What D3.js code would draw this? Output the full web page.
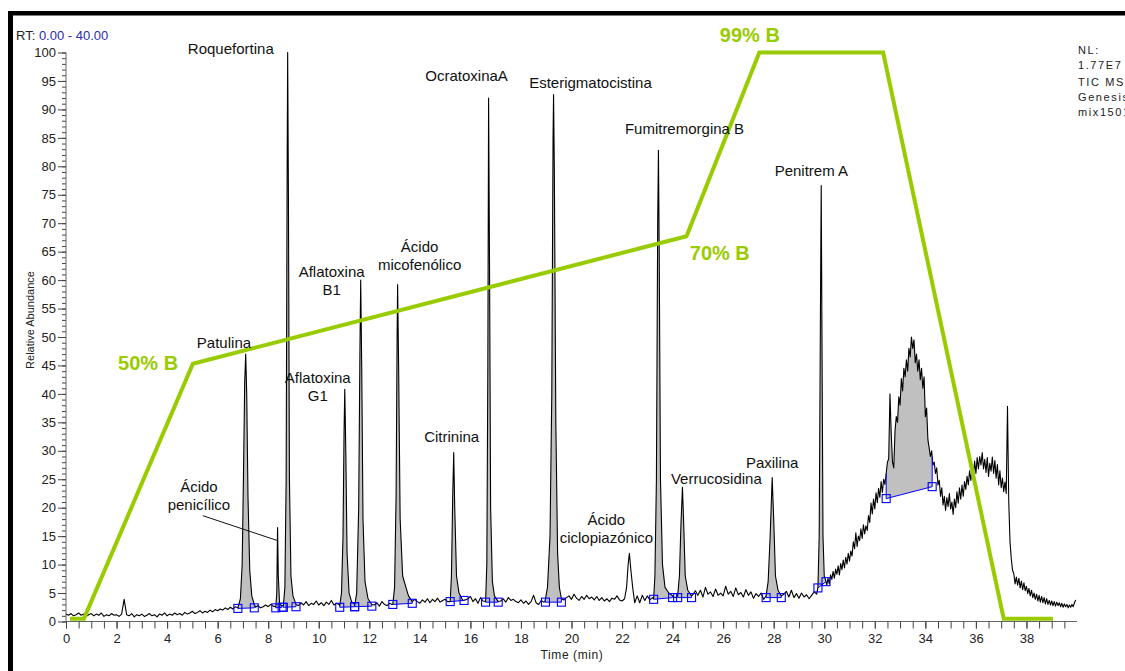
<!DOCTYPE html>
<html><head><meta charset="utf-8">
<script src="https://cdn.jsdelivr.net/npm/d3@7"></script>
<style>
body{margin:0;background:#fff;overflow:hidden}
svg{display:block;font-family:"Liberation Sans",Arial,Helvetica,sans-serif}
</style>
</head><body>
<svg id="chart" width="1125" height="671"></svg>
<script>
// ---------- DATA ----------
// TIC trace between peaks, one value every 0.1 min from 0.0 to 29.9 min (relative abundance %)
const baselineStep = 0.1;
const baselineValues = [
 1.3,1.1,1.4,1.0,1.2,1.5,1.1,1.3,0.9,1.2,
 1.4,1.0,1.3,1.1,1.5,0.9,1.2,1.0,1.4,1.1,
 1.2,0.9,1.3,3.9,1.2,1.0,1.4,0.8,1.2,1.0,
 1.3,0.9,1.1,1.4,1.0,1.2,0.8,1.3,1.1,1.5,
 1.0,1.3,1.1,1.5,1.2,1.4,1.1,1.6,1.3,1.5,
 1.8,1.4,1.6,1.9,1.5,1.8,1.6,2.0,1.7,2.1,
 1.9,2.2,2.0,2.4,2.1,2.5,2.2,2.6,2.3,2.4,
 2.5,2.4,2.6,2.3,2.7,2.5,2.8,2.4,2.6,2.9,
 2.6,3.0,2.7,3.2,4.5,2.8,3.0,2.9,3.3,2.7,
 3.1,4.2,2.8,3.3,2.9,3.5,2.8,3.2,3.0,3.6,
 2.9,3.3,2.8,3.4,3.0,3.7,2.9,3.2,3.0,3.1,
 3.0,3.2,2.9,3.4,3.1,3.3,2.8,3.5,3.0,3.2,
 2.8,4.2,2.9,3.3,2.7,3.5,3.0,2.8,3.2,3.0,
 3.4,3.0,3.6,3.2,3.8,3.4,4.5,3.3,3.9,3.5,
 3.2,3.8,3.4,4.0,3.3,3.9,3.5,4.1,3.4,3.7,
 3.9,3.5,4.2,3.6,4.0,3.7,4.1,4.6,3.8,4.0,
 4.4,3.5,4.0,3.2,4.2,3.6,3.9,4.4,3.5,4.1,
 3.8,4.5,3.6,4.0,3.4,4.2,3.7,3.9,3.5,3.3,
 3.8,3.2,3.6,3.0,3.5,4.6,3.3,3.0,3.7,3.4,
 3.8,3.5,4.0,3.6,4.3,3.9,4.6,3.8,4.2,4.5,
 3.9,4.8,4.1,3.7,4.4,3.9,4.6,4.0,4.3,3.8,
 4.4,3.7,4.2,3.6,4.0,3.5,4.1,3.9,4.5,3.8,
 3.6,4.0,4.3,4.6,4.2,4.4,3.9,3.3,4.6,3.7,
 4.5,3.8,4.2,4.0,4.4,4.1,4.7,4.3,4.9,4.4,
 4.6,4.2,4.8,4.4,4.5,4.3,4.9,4.5,4.7,5.4,
 4.6,5.5,4.3,6.0,4.8,5.2,4.4,5.7,4.6,5.0,
 4.5,6.2,4.8,5.3,4.4,5.9,4.7,5.1,4.3,5.6,
 4.6,5.2,4.1,4.9,4.4,5.0,3.9,4.5,4.6,4.4,
 4.5,4.4,4.6,4.3,4.8,5.3,4.3,5.5,4.2,4.9,
 4.1,5.0,4.3,4.7,4.0,4.6,5.2,4.8,5.6,6.0
];
// Late-eluting hump, one value every 0.05 min from 30.00 to 39.95 min
const humpStart = 30.0;
const humpStep = 0.05;
const humpValues = [
 7.5,7.0,6.4,7.6,6.6,8.2,7.4,8.8,7.6,9.2,
 8.3,9.8,8.2,10.2,9.1,10.8,9.4,11.3,10.1,12.0,
 10.6,12.4,11.5,14.0,12.8,15.6,13.2,15.0,14.2,16.3,
 14.6,17.0,15.4,16.8,16.0,18.6,17.4,20.8,18.9,21.5,
 19.8,22.6,20.9,23.4,21.8,24.6,22.7,25.0,24.1,26.0,
 28.0,28.6,40.0,33.0,28.0,27.0,33.5,36.0,35.0,39.5,
 38.0,42.7,40.5,44.5,43.0,46.0,44.0,48.0,46.5,50.0,
 48.0,49.5,45.5,47.0,44.0,46.0,42.5,44.5,41.0,43.0,
 36.0,37.5,32.0,30.5,29.0,30.0,27.5,28.0,26.0,27.0,
 24.0,24.8,22.0,23.5,20.5,22.0,19.5,21.8,20.2,22.5,
 19.8,21.0,18.8,21.5,20.0,22.8,20.8,23.5,21.5,24.0,
 22.0,24.6,23.2,25.5,24.0,26.5,24.8,27.0,25.6,28.2,
 26.0,28.8,26.8,29.0,27.5,29.7,26.8,28.5,26.2,28.8,
 25.5,27.8,26.4,28.9,26.0,28.3,25.2,27.6,24.0,26.5,
 23.5,25.2,22.8,24.5,22.5,37.8,21.0,14.0,11.0,9.0,
 8.4,6.6,7.8,6.4,7.6,5.9,7.1,5.6,6.8,5.4,
 6.2,4.9,5.8,4.5,5.5,4.2,5.0,3.9,4.8,3.6,
 4.6,3.4,4.4,3.3,4.2,3.1,4.0,3.0,3.7,2.9,
 3.6,2.8,3.5,2.7,3.4,2.8,3.3,2.6,3.2,2.5,
 3.1,2.6,3.0,2.4,2.9,2.5,3.0,2.6,3.3,3.8
];

// Peak profiles: [time (min), relative abundance (%)]
const peakPatulina = [[6.8,2.4],[6.9,4],[6.97,10],[7.02,25],[7.07,42],[7.11,47],[7.15,40],[7.2,22],[7.27,9],[7.35,4.5],[7.45,3]];
const peakPenicilico = [[8.3,2.6],[8.34,5],[8.37,16.5],[8.4,8],[8.45,3.2],[8.52,2.8]];
const peakRoquefortina = [[8.6,2.8],[8.66,6],[8.71,25],[8.75,80],[8.77,100],[8.8,75],[8.84,25],[8.9,8],[8.98,4.5],[9.1,3]];
const peakAflaG1 = [[10.83,2.8],[10.9,5],[10.96,15],[11.0,33],[11.03,40.8],[11.07,30],[11.12,12],[11.2,5],[11.3,3.5],[11.42,3]];
const peakAflaB1 = [[11.43,3],[11.5,5],[11.58,20],[11.63,48],[11.66,60],[11.7,45],[11.75,18],[11.83,7],[11.95,4],[12.1,3]];
const peakMicofenolico = [[12.93,3],[13.0,6],[13.06,22],[13.1,50],[13.12,59.2],[13.16,45],[13.22,18],[13.32,8],[13.45,6],[13.55,4.5],[13.7,3.5]];
const peakCitrinina = [[15.2,3.5],[15.25,8],[15.3,22],[15.34,29.7],[15.38,20],[15.45,8],[15.55,5],[15.7,3.7]];
const peakOcratoxina = [[16.6,3.5],[16.65,10],[16.69,45],[16.72,92],[16.76,60],[16.8,20],[16.87,7],[16.95,4.5],[17.1,3.5]];
const peakEsterig = [[18.95,3.5],[19.05,6],[19.15,15],[19.22,40],[19.27,85],[19.29,92.6],[19.32,80],[19.38,35],[19.45,12],[19.52,6],[19.6,4]];
const peakCiclopiazonico = [[22.1,4],[22.18,6],[22.24,10],[22.29,12],[22.35,9],[22.42,6],[22.5,3.3],[22.6,4.5]];
const peakFumitremorgina = [[23.25,4],[23.3,8],[23.36,25],[23.41,70],[23.44,82.8],[23.47,65],[23.52,25],[23.6,10],[23.7,6],[23.85,5],[24.0,4.5]];
const peakVerrucosidina = [[24.2,4.5],[24.27,8],[24.33,17],[24.39,23.6],[24.44,17],[24.5,8],[24.6,5.5],[24.75,4.5]];
const peakPaxilina = [[27.7,4.5],[27.78,7],[27.86,15],[27.94,25.3],[28.0,18],[28.07,8],[28.17,5.5],[28.3,4.5]];
const peakPenitrem = [[29.75,6],[29.8,15],[29.85,55],[29.88,76.6],[29.91,50],[29.95,15],[30.0,8],[30.07,7]];

// Integrated peaks: [start time, start level, end time, end level]
const integrations = [
 [6.8,2.3,7.45,2.4],[8.3,2.4,8.55,2.5],[8.6,2.5,9.1,2.6],[10.83,2.5,11.42,2.6],[11.42,2.6,12.1,2.7],
 [12.93,3.0,13.7,3.2],[15.2,3.5,15.75,3.7],[16.6,3.4,17.1,3.4],[18.97,3.4,19.6,3.4],
 [23.25,3.9,24.0,4.2],[24.2,4.2,24.75,4.2],[27.7,4.2,28.3,4.2],[29.75,5.9,30.07,7.0],[32.45,21.6,34.27,23.7]
];

// Compound labels and their anchor (time, abundance) at label centre
const compoundNames = [["Roquefortina"],["Patulina"],["Ácido","penicílico"],["Aflatoxina","G1"],["Aflatoxina","B1"],
 ["Ácido","micofenólico"],["Citrinina"],["OcratoxinaA"],["Esterigmatocistina"],["Fumitremorgina B"],
 ["Ácido","ciclopiazónico"],["Verrucosidina"],["Paxilina"],["Penitrem A"]];
const compoundAnchors = [[6.52,100.7],[6.25,49.0],[5.26,23.7],[9.96,42.9],[10.51,61.5],[13.99,65.9],[15.26,32.5],
 [15.85,96.0],[20.75,94.7],[24.47,86.6],[21.38,17.9],[25.73,25.1],[27.94,27.9],[29.49,79.3]];
const penicilicoLeader = [[5.41,18.6],[8.38,14.2]];

// Mobile-phase gradient (% B) drawn over the trace
const gradientTime = [0.16,0.71,5.02,24.55,27.43,32.33,37.1,39.05];
const gradientLevel = [0.5,0.5,45.3,67.7,100,100,0.5,0.5];
const gradientLabels = ["50% B","70% B","99% B"];
const gradientLabelAnchors = [[2.06,45.5],[24.68,64.7],[25.87,103]];

const yTickValues = d3.range(0,101,5);
const xTickLabels = d3.range(0,39,2);
const headerLines = ["NL:","1.77E7","TIC  MS","Genesis","mix1501"];

// ---------- DRAW ----------
const svg = d3.select("#chart");
const x = d3.scaleLinear().domain([0,40]).range([66,1077]);
const y = d3.scaleLinear().domain([0,100]).range([621.5,52.5]);

// frame
svg.append("rect").attr("x",8).attr("y",11).attr("width",1125).attr("height",4.5).attr("fill","#000");
svg.append("rect").attr("x",8).attr("y",11).attr("width",5).attr("height",671).attr("fill","#000");

// build trace
const peakList = [peakPatulina,peakPenicilico,peakRoquefortina,peakAflaG1,peakAflaB1,peakMicofenolico,peakCitrinina,
 peakOcratoxina,peakEsterig,peakCiclopiazonico,peakFumitremorgina,peakVerrucosidina,peakPaxilina,peakPenitrem];
const rawTrace = baselineValues.map((v,i)=>[+(i*baselineStep).toFixed(3), v])
  .concat(humpValues.map((v,i)=>[+(humpStart + i*humpStep).toFixed(3), v]));
let trace = rawTrace.filter(([t]) => !peakList.some(p => t>=p[0][0]-1e-9 && t<=p[p.length-1][0]+1e-9));
peakList.forEach(p => { trace = trace.concat(p); });
trace.sort((a,b)=>a[0]-b[0]);

function valueAt(t){
  for(let i=0;i<trace.length-1;i++){
    const a=trace[i], b=trace[i+1];
    if(t>=a[0] && t<=b[0]){ const f=(b[0]===a[0])?0:(t-a[0])/(b[0]-a[0]); return a[1]+f*(b[1]-a[1]); }
  }
  return trace[trace.length-1][1];
}

// shaded integrated areas
const gArea = svg.append("g");
integrations.forEach(([s,sa,e,ea])=>{
  const poly = [[s,sa],[s,valueAt(s)]].concat(trace.filter(d=>d[0]>s && d[0]<e)).concat([[e,valueAt(e)],[e,ea]]);
  gArea.append("path").attr("d", d3.line().x(d=>x(d[0])).y(d=>y(d[1]))(poly)+"Z")
    .attr("fill","#c0c0c0").attr("stroke","none");
});

// axes
const yAxisMinor = d3.axisLeft(y).tickValues(d3.range(0,101,1)).tickSize(4).tickFormat("");
svg.append("g").attr("transform","translate(66,0)").call(yAxisMinor)
  .call(g=>{g.select(".domain").remove(); g.selectAll("line").attr("stroke","#444");});
const yAxis = d3.axisLeft(y).tickValues(yTickValues).tickSize(8).tickPadding(2);
svg.append("g").attr("transform","translate(66,0)").call(yAxis)
  .call(g=>{g.select(".domain").attr("stroke","#666").attr("d","M0,52.5V621.5");
    g.selectAll("line").attr("stroke","#444");
    g.selectAll("text").attr("font-size",13).attr("fill","#222").attr("font-family","Liberation Sans, Arial, sans-serif");});

const xAxisMinor = d3.axisBottom(x).tickValues(d3.range(0,39.6,0.5)).tickSize(7).tickFormat("");
svg.append("g").attr("transform","translate(0,621.5)").call(xAxisMinor)
  .call(g=>{g.select(".domain").attr("stroke","#666").attr("d","M66,0H1077"); g.selectAll("line").attr("stroke","#444");});
const xAxis = d3.axisBottom(x).tickValues(xTickLabels).tickSize(7).tickPadding(5).tickFormat(d3.format("d"));
svg.append("g").attr("transform","translate(0,621.5)").call(xAxis)
  .call(g=>{g.select(".domain").remove(); g.selectAll("line").attr("stroke","#444");
    g.selectAll("text").attr("font-size",13).attr("fill","#222").attr("font-family","Liberation Sans, Arial, sans-serif");});

// axis titles
svg.append("text").attr("transform","translate(30,320) rotate(-90)").attr("text-anchor","middle")
  .attr("dominant-baseline","central").attr("font-size",11).attr("fill","#222").text("Relative Abundance");
svg.append("text").attr("x",572).attr("y",655).attr("text-anchor","middle").attr("dominant-baseline","central")
  .attr("font-size",12).attr("letter-spacing","0.6px").attr("fill","#222").text("Time (min)");

// RT header
const rt = svg.append("text").attr("x",16).attr("y",35).attr("dominant-baseline","central").attr("font-size",13);
rt.append("tspan").attr("fill","#222").text("RT: ");
rt.append("tspan").attr("fill","#2b2bb0").text("0.00 - 40.00");

// right header
headerLines.forEach((s,i)=>{
  svg.append("text").attr("x",1078).attr("y",[50,65,82,97,112][i]).attr("dominant-baseline","central")
    .attr("font-size",11).attr("letter-spacing","1.6px").attr("fill","#222").text(s);
});

// trace
svg.append("path").attr("d", d3.line().x(d=>x(d[0])).y(d=>y(d[1]))(trace))
  .attr("fill","none").attr("stroke","#000").attr("stroke-width",1.1).attr("stroke-linejoin","round");

// integration baselines and markers
const gInt = svg.append("g");
integrations.forEach(([s,sa,e,ea])=>{
  gInt.append("line").attr("x1",x(s)).attr("y1",y(sa)).attr("x2",x(e)).attr("y2",y(ea)).attr("stroke","#0000ff").attr("stroke-width",1);
  gInt.append("line").attr("x1",x(s)).attr("y1",y(sa)).attr("x2",x(s)).attr("y2",y(valueAt(s))).attr("stroke","#0000ff").attr("stroke-width",1);
  gInt.append("line").attr("x1",x(e)).attr("y1",y(ea)).attr("x2",x(e)).attr("y2",y(valueAt(e))).attr("stroke","#0000ff").attr("stroke-width",1);
  [[s,sa],[e,ea]].forEach(([t,v])=>{
    gInt.append("rect").attr("x",x(t)-4).attr("y",y(v)-4).attr("width",8).attr("height",8)
      .attr("fill","none").attr("stroke","#0000ff").attr("stroke-width",1.1);
  });
});

// gradient line
svg.append("path").attr("d", d3.line().x((d,i)=>x(gradientTime[i])).y((d,i)=>y(gradientLevel[i]))(gradientTime))
  .attr("fill","none").attr("stroke","#99cc00").attr("stroke-width",4).attr("stroke-linejoin","miter");
gradientLabels.forEach((s,i)=>{
  svg.append("text").attr("x",x(gradientLabelAnchors[i][0])).attr("y",y(gradientLabelAnchors[i][1]))
    .attr("dominant-baseline","central").attr("font-size",20).attr("font-weight","bold").attr("fill","#99cc00").text(s);
});

// compound labels
compoundNames.forEach((lines,i)=>{
  const t = svg.append("text").attr("text-anchor","middle").attr("font-size",15).attr("fill","#111");
  const cx = x(compoundAnchors[i][0]), cy = y(compoundAnchors[i][1]);
  lines.forEach((ln,j)=>{
    t.append("tspan").attr("x",cx).attr("y",cy + j*18).attr("dominant-baseline","central").text(ln);
  });
});
svg.append("line").attr("x1",x(penicilicoLeader[0][0])).attr("y1",y(penicilicoLeader[0][1]))
  .attr("x2",x(penicilicoLeader[1][0])).attr("y2",y(penicilicoLeader[1][1])).attr("stroke","#111").attr("stroke-width",1);
</script>
</body></html>
